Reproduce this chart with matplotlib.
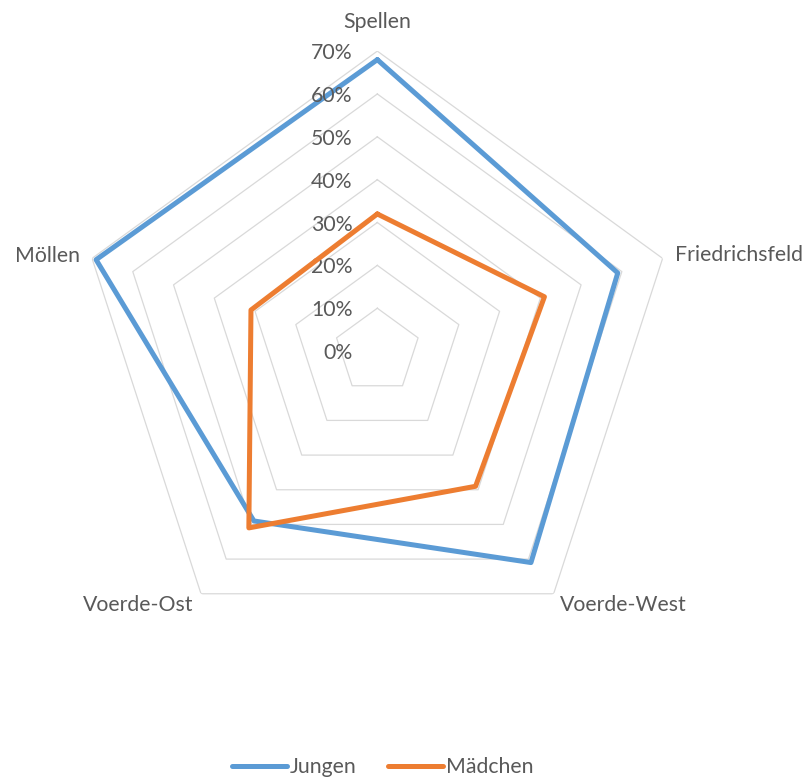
import numpy as np
import matplotlib.pyplot as plt

plt.rcParams['font.family'] = ['Lato', 'DejaVu Sans']

# Daten
categories = ["Spellen", "Friedrichsfeld", "Voerde-West", "Voerde-Ost", "Möllen"]
jungen = [68, 59, 61, 49, 69]
maedchen = [32, 41, 39, 51, 31]
ring_levels = [10, 20, 30, 40, 50, 60, 70]
tick_labels = ["0%", "10%", "20%", "30%", "40%", "50%", "60%", "70%"]

BLUE = "#5B9BD5"
ORANGE = "#ED7D31"
GRID = "#D9D9D9"
TEXT = "#595959"
FS = 15.3

n = len(categories)
angles = np.linspace(0, 2 * np.pi, n, endpoint=False)
angles_closed = np.append(angles, angles[0])

fig = plt.figure(figsize=(8.09, 7.80), dpi=100)
ax = fig.add_axes([0.0956, 0.1653, 0.7416, 0.7692], projection="polar")
ax.set_theta_offset(np.pi / 2)
ax.set_theta_direction(-1)
ax.set_ylim(0, 70)
ax.grid(False)
ax.spines["polar"].set_visible(False)
ax.set_xticks([])
ax.set_yticks([])
ax.patch.set_visible(False)

# Gitter (Fünfecke)
for r in ring_levels:
    ax.plot(angles_closed, [r] * (n + 1), color=GRID, lw=0.9, zorder=1)

# Datenreihen
ax.plot(angles_closed, jungen + [jungen[0]], color=BLUE, lw=3.6,
        solid_joinstyle="round", solid_capstyle="round", label="Jungen", zorder=3)
ax.plot(angles_closed, maedchen + [maedchen[0]], color=ORANGE, lw=3.6,
        solid_joinstyle="round", solid_capstyle="round", label="Mädchen", zorder=4)

# Achsenbeschriftung (Prozent)
for r, lab in zip([0] + ring_levels, tick_labels):
    ax.annotate(lab, xy=(0, r), xytext=(-25, -2), textcoords="offset pixels",
                ha="right", va="center", fontsize=FS, color=TEXT)

# Kategorien
offsets = [(0, 29, "center"), (12, 3, "left"), (6, -11, "left"),
           (-8, -11, "right"), (-12, 2, "right")]
for ang, cat, (dx, dy, ha) in zip(angles, categories, offsets):
    ax.annotate(cat, xy=(ang, 70), xytext=(dx, dy), textcoords="offset pixels",
                ha=ha, va="center", fontsize=FS, color=TEXT, annotation_clip=False)

leg = fig.legend(loc="center", bbox_to_anchor=(0.473, 13 / 780), ncol=2,
                 frameon=False, fontsize=FS, handlelength=2.6,
                 handletextpad=0.15, columnspacing=1.45)
for t in leg.get_texts():
    t.set_color(TEXT)
for h in leg.legend_handles:
    h.set_linewidth(3.6)

plt.savefig("out.png", dpi=100)
